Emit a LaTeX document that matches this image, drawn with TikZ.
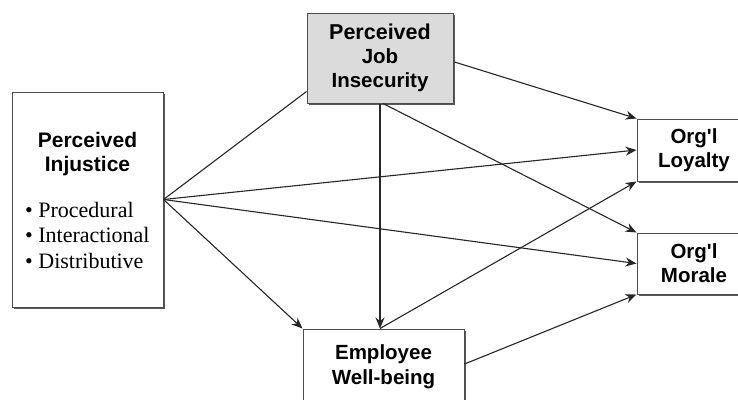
\documentclass[tikz,border=0pt]{standalone}
\usepackage{fontspec}
\setmainfont{Liberation Serif}
\setsansfont{Liberation Sans}
\usetikzlibrary{arrows.meta,shadows,calc}

\tikzset{
  box/.style={draw=black!70, line width=1pt, fill=white, inner sep=0pt,
    general shadow={fill=black!65, shadow xshift=1.6pt, shadow yshift=-1.6pt},
    font=\sffamily\bfseries\fontsize{20.5}{24}\selectfont, align=center},
  link/.style={line width=1.1pt, draw=black!85},
  arr/.style={link, -{Stealth[length=11pt,width=9pt]}}
}

\begin{document}
\begin{tikzpicture}[x=1pt,y=-1pt]
  \useasboundingbox (0,0) rectangle (738,399);
  \clip (0,0) rectangle (738,399);

  % boxes
  \node[box, minimum width=151pt, minimum height=215pt] (inj) at (87.5,199.5) {};
  \node[font=\sffamily\bfseries\fontsize{21}{24}\selectfont, align=center] (injt) at (87.5,154) {Perceived\\Injustice};
  \node[font=\fontsize{22}{25.5}\selectfont, align=left, anchor=north west, inner sep=0pt] (injl) at (25,202)
    {\textbullet\ Procedural\\\textbullet\ Interactional\\\textbullet\ Distributive};

  \node[box, fill=black!14, minimum width=146pt, minimum height=90pt] (job) at (380,58)
    {\fontsize{21.5}{27}\selectfont Perceived\\Job\\Insecurity};

  \node[box, minimum width=161pt, minimum height=76pt] (wb) at (383.5,367)
    {Employee\\[1pt]Well-being};

  \node[box, minimum width=114pt, minimum height=62pt] (loy) at (694,150)
    {Org\textquotesingle l\\Loyalty};
  \node[box, minimum width=114pt, minimum height=61pt] (mor) at (694,263.5)
    {Org\textquotesingle l\\Morale};

  % paths
  \coordinate (jobin) at ($(job.south west)+(0,-12)$);
  \coordinate (jobout) at ($(job.south)+(3,0)$);
  \coordinate (wbin) at (job.south |- wb.north);

  \draw[link] (inj.east) -- (jobin);
  \draw[arr] (inj.east) -- (loy.west);
  \draw[arr] (inj.east) -- (mor.west);
  \draw[arr] (inj.east) -- (wb.north west);

  \draw[arr] ($(job.east)+(1,4)$) -- (loy.north west);
  \draw[arr] (job.south) -- (wbin);
  \draw[arr] (jobout) -- (mor.north west);

  \draw[arr] (wbin) -- (loy.south west);
  \draw[arr] ($(wb.east)+(0,-3)$) -- (mor.south west);
\end{tikzpicture}
\end{document}
